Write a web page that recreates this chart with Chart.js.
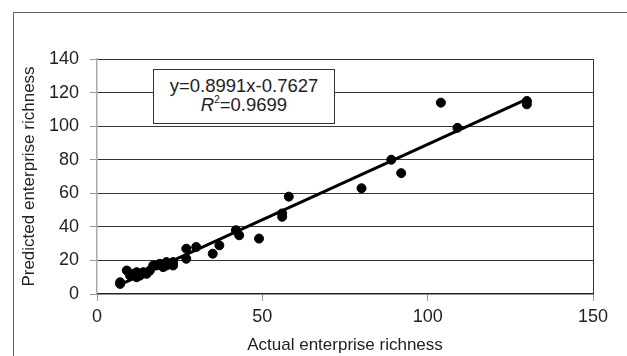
<!DOCTYPE html>
<html>
  <head>
    <meta charset="UTF-8" />
    <title>Enterprise richness</title>
    <script src="https://cdn.jsdelivr.net/npm/chart.js@4/dist/chart.umd.min.js"></script>
    <style>
      html, body { margin: 0; padding: 0; background: #fff; }
      #wrap { position: relative; width: 627px; height: 356px; overflow: hidden; }
      #frame {
        position: absolute; left: 13px; top: 12px; width: 700px; height: 400px;
        border-left: 1px solid #666; border-top: 1px solid #666;
      }
      #chart { position: absolute; left: 0; top: 0; }
      #eqBox {
        position: absolute; left: 153px; top: 69px; width: 180px; height: 47px;
        border: 1px solid #333; background: #fff; color: #222;
        font: 18.5px "Liberation Sans", Arial, sans-serif; line-height: 19px;
        text-align: center; padding-top: 6px;
      }
      #eqBox sup { font-size: 10px; line-height: 0; vertical-align: 8px; }
    </style>
  </head>
  <body>
    <div id="wrap">
      <div id="frame"></div>
      <canvas id="chart" width="627" height="356"></canvas>
      <div id="eqBox">y=0.8991x-0.7627<br><i>R</i><sup>2</sup>=0.9699</div>
    </div>

    <script>
      // values
      const actualRichness = [7, 7, 9, 10, 11, 12, 12, 13, 13, 14, 15, 16, 17, 18, 19, 20, 21, 21, 22, 23, 23,
        27, 27, 30, 35, 37, 42, 43, 49, 56, 56, 58, 80, 89, 92, 104, 109, 130, 130];
      const predictedRichness = [6, 7, 14, 11, 12, 10, 13, 11, 12, 13, 12, 14, 17, 17, 18, 16, 19, 17, 18, 17, 19,
        21, 27, 28, 24, 29, 38, 35, 33, 46, 48, 58, 63, 80, 72, 114, 99, 113, 115];
      // fitted line end points
      const trendX = [6.5, 130];
      const trendY = [5.1, 116.1];

      const xTicks = [0, 50, 100, 150];
      const yTicks = [0, 20, 40, 60, 80, 100, 120, 140];

      const font = { family: "'Liberation Sans', Arial, sans-serif", size: 18 };
      const titleFont = { family: "'Liberation Sans', Arial, sans-serif", size: 17 };

      new Chart(document.getElementById('chart'), {
        type: 'scatter',
        data: {
          datasets: [
            {
              label: 'samples',
              data: actualRichness.map((x, i) => ({ x: x, y: predictedRichness[i] })),
              backgroundColor: '#000',
              borderColor: '#000',
              pointRadius: 4.5,
              pointHoverRadius: 4.5,
              order: 2
            },
            {
              label: 'trend',
              data: trendX.map((x, i) => ({ x: x, y: trendY[i] })),
              showLine: true,
              borderColor: '#000',
              borderWidth: 3,
              pointRadius: 0,
              order: 1
            }
          ]
        },
        options: {
          responsive: false,
          animation: false,
          layout: { padding: { top: 59, right: 34, left: 0, bottom: 0 } },
          plugins: { legend: { display: false }, tooltip: { enabled: false } },
          scales: {
            x: {
              type: 'linear',
              min: 0, max: 150,
              afterFit: s => { s.height = 62; },
              afterBuildTicks: s => { s.ticks = xTicks.map(v => ({ value: v })); },
              ticks: { color: '#222', font: font, padding: 5, maxRotation: 0 },
              grid: {
                color: c => (c.tick && c.tick.value === 150 ? '#333' : 'rgba(0,0,0,0)'),
                tickColor: '#999',
                tickLength: 7,
                lineWidth: 1
              },
              border: { display: true, color: '#222', width: 1.5 },
              title: {
                display: true, text: 'Actual enterprise richness',
                color: '#222', font: titleFont, padding: { top: 0, bottom: 0 }
              }
            },
            y: {
              type: 'linear',
              min: 0, max: 140,
              afterFit: s => { s.width = 97; },
              afterBuildTicks: s => { s.ticks = yTicks.map(v => ({ value: v })); },
              ticks: { color: '#222', font: font, padding: 11 },
              grid: {
                color: c => (c.tick && c.tick.value === 0 ? 'rgba(0,0,0,0)' : '#333'),
                tickColor: '#999',
                tickLength: 7,
                lineWidth: 1
              },
              border: { display: true, color: '#aaa', width: 1.5 },
              title: {
                display: true, text: 'Predicted enterprise richness',
                color: '#222', font: titleFont, padding: { top: 19, bottom: 0 }
              }
            }
          }
        }
      });
    </script>
  </body>
</html>
